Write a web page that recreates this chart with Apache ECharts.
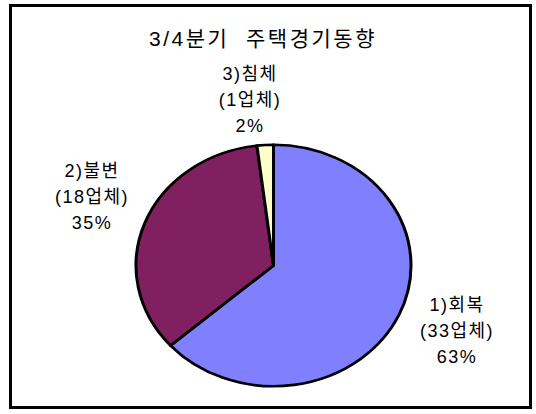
<!DOCTYPE html>
<html>
<head>
<meta charset="utf-8">
<script src="https://cdn.jsdelivr.net/npm/echarts@6/dist/echarts.min.js"></script>
<style>
  html, body { margin: 0; padding: 0; background: #fff; }
  #wrap { position: relative; width: 536px; height: 414px; overflow: hidden; }
  #pie { position: absolute; left: 0; top: 0; width: 536px; height: 414px;
         transform: scaleY(0.878); transform-origin: 0 265.5px; }
  #lab { position: absolute; left: 0; top: 0; width: 536px; height: 414px; }
  #lab text { letter-spacing: 1.5px; }
  #lab text.ttl { letter-spacing: 2.5px; }
</style>
</head>
<body>
<div id="wrap">
  <div id="pie"></div>
  <div id="lab"></div>
</div>
<script>
// ---- data ----
const chartTitle = '3/4분기  주택경기동향';
const categories = ['1)회복', '2)불변', '3)침체'];
const companyCounts = [33, 18, 1];
const sliceColors = ['#8080FF', '#802060', '#FFFFCC'];

// ---- layout / style (not data) ----
const FONT = "'Liberation Sans', 'Noto Sans CJK KR', sans-serif";
const pieCenter = [273.5, 265.5];
const pieRadius = 137.5;
const labelCenters = [[457, 331], [92, 196.5], [250, 100]];

const seriesData = categories.map((c, i) => ({ name: c, value: companyCounts[i] }));

// Pie slices (drawn in a vertically squeezed layer to give the ellipse)
const pieChart = echarts.init(document.getElementById('pie'), null, { renderer: 'svg' });
pieChart.setOption({
  animation: false,
  color: sliceColors,
  series: [{
    type: 'pie',
    center: pieCenter,
    radius: pieRadius,
    startAngle: 90,
    clockwise: true,
    silent: true,
    label: { show: false },
    labelLine: { show: false },
    itemStyle: { borderColor: '#000', borderWidth: 3 },
    data: seriesData
  }]
});

// Title, frame and labels (unsqueezed layer)
const labChart = echarts.init(document.getElementById('lab'), null, { renderer: 'svg' });
labChart.setOption({
  animation: false,
  title: {
    text: chartTitle,
    left: 263,
    top: 28,
    padding: 0,
    textAlign: 'center',
    textStyle: { fontSize: 21, fontWeight: 'normal', fontFamily: FONT, color: '#000' }
  },
  graphic: [{
    type: 'rect',
    shape: { x: 10.5, y: 5.5, width: 520, height: 402 },
    style: { fill: 'none', stroke: '#000', lineWidth: 3 },
    silent: true
  }],
  series: [{
    type: 'pie',
    center: pieCenter,
    radius: pieRadius,
    startAngle: 90,
    clockwise: true,
    silent: true,
    itemStyle: { color: 'rgba(0,0,0,0)', borderWidth: 0 },
    labelLine: { show: false },
    label: {
      show: true,
      position: 'outside',
      color: '#000',
      fontFamily: FONT,
      fontSize: 18,
      lineHeight: 26,
      align: 'center',
      formatter: p => p.name + '\n(' + p.value + '업체)\n' + Math.round(p.percent) + '%'
    },
    labelLayout: p => ({
      x: labelCenters[p.dataIndex][0],
      y: labelCenters[p.dataIndex][1],
      align: 'center',
      verticalAlign: 'middle',
      hideOverlap: false
    }),
    data: seriesData
  }]
});

// mark title text for wider letter spacing
setTimeout(() => {
  document.querySelectorAll('#lab text').forEach(t => {
    if (t.textContent === chartTitle) t.classList.add('ttl');
  });
}, 0);
</script>
</body>
</html>
